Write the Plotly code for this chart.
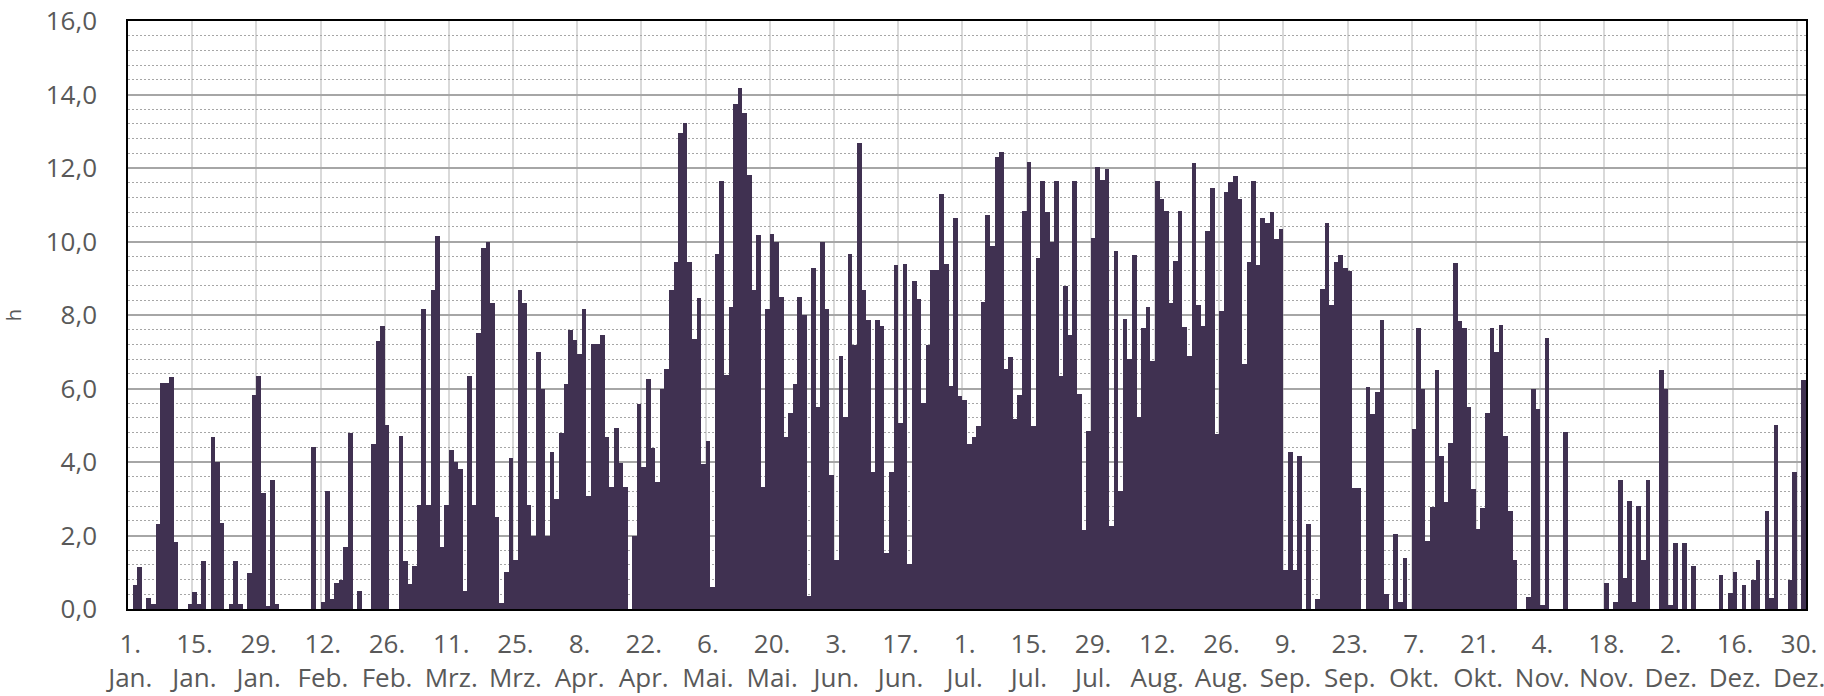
import plotly.graph_objects as go

# daily sunshine duration in hours, leap year (366 days)
jan = [0, 0.64, 1.15, 0, 0.3, 0.14, 2.32, 6.15, 6.15, 6.3, 1.82, 0, 0, 0.14, 0.46, 0.14,
       1.3, 0, 4.67, 4.0, 2.33, 0, 0.14, 1.3, 0.14, 0, 0.98, 5.83, 6.33, 3.16, 0.07]
feb = [3.5, 0.14, 0, 0, 0, 0, 0, 0, 0, 4.4, 0, 0.18, 3.2, 0.28, 0.7, 0.8, 1.7, 4.78, 0,
       0.5, 0, 0, 4.5, 7.3, 7.7, 5.0, 0, 0, 4.7]
mar = [1.3, 0.67, 1.16, 2.83, 8.16, 2.83, 8.67, 10.15, 1.68, 2.83, 4.33, 4.0, 3.81, 0.5,
       6.33, 2.83, 7.5, 9.82, 10.0, 8.33, 2.5, 0.15, 1.0, 4.1, 1.32, 8.67, 8.33, 2.83, 2.0,
       7.0, 6.0]
apr = [2.0, 4.26, 2.98, 4.78, 6.13, 7.6, 7.33, 6.94, 8.15, 3.07, 7.2, 7.2, 7.45, 4.67,
       3.33, 4.93, 3.97, 3.33, 0, 2.0, 5.58, 3.87, 6.26, 4.39, 3.45, 6.0, 6.52, 8.67, 9.45,
       12.96]
mai = [13.22, 9.45, 7.35, 8.46, 3.94, 4.57, 0.6, 9.67, 11.66, 6.36, 8.23, 13.74, 14.18,
       13.5, 11.82, 8.67, 10.18, 3.33, 8.16, 10.2, 10.0, 8.48, 4.67, 5.32, 6.13, 8.48, 8.0,
       0.35, 9.27, 5.5, 10.0]
jun = [8.16, 3.66, 1.32, 6.88, 5.22, 9.67, 7.19, 12.69, 8.67, 7.87, 3.73, 7.87, 7.71,
       1.53, 3.73, 9.36, 5.06, 9.4, 1.22, 8.93, 8.43, 5.61, 7.19, 9.22, 9.22, 11.3, 9.4,
       6.07, 10.65, 5.79]
jul = [5.69, 4.49, 4.67, 4.99, 8.36, 10.73, 9.89, 12.31, 12.44, 6.54, 6.85, 5.17, 5.82,
       10.82, 12.15, 4.99, 9.56, 11.65, 10.8, 10.0, 11.65, 6.33, 8.78, 7.45, 11.65, 5.84,
       2.15, 4.85, 10.1, 12.02, 11.68]
aug = [11.98, 2.26, 9.74, 3.22, 7.9, 6.81, 9.62, 5.22, 7.66, 8.21, 6.75, 11.65, 11.17,
       10.82, 8.33, 9.48, 10.82, 7.68, 6.88, 12.13, 8.26, 7.7, 10.28, 11.45, 4.75, 8.12,
       11.34, 11.61, 11.79, 11.17, 6.67]
sep = [9.45, 11.65, 9.37, 10.65, 10.49, 10.81, 10.07, 10.33, 1.06, 4.26, 1.06, 4.15, 0,
       2.31, 0, 0.28, 8.7, 10.49, 8.26, 9.43, 9.62, 9.27, 9.2, 3.3, 3.3, 0, 6.05, 5.3,
       5.91, 7.87]
okt = [0.42, 0, 2.05, 0.18, 1.4, 0, 4.9, 7.66, 6.0, 1.86, 2.78, 6.5, 4.15, 2.91, 4.51,
       9.41, 7.84, 7.64, 5.5, 3.26, 2.17, 2.74, 5.34, 7.64, 7.0, 7.73, 4.72, 2.67, 1.32, 0, 0]
nov = [0.33, 6.0, 5.43, 0.12, 7.37, 0, 0, 0, 4.82, 0, 0, 0, 0, 0, 0, 0, 0, 0.7, 0, 0.18,
       3.5, 0.85, 2.95, 0.18, 2.8, 1.32, 3.52, 0, 0, 6.5]
dez = [6.0, 0.12, 1.79, 0, 1.79, 0, 1.16, 0, 0, 0, 0, 0, 0.93, 0, 0.44, 1.0, 0, 0.65, 0,
       0.8, 1.32, 0, 2.67, 0.3, 5.0, 0, 0, 0.78, 3.74, 0, 6.24]

hours = jan + feb + mar + apr + mai + jun + jul + aug + sep + okt + nov + dez
days = list(range(len(hours)))

# tick every 14 days
tick_days = list(range(0, 366, 14))
tick_labels = [
    "1.<br>Jan.", "15.<br>Jan.", "29.<br>Jan.", "12.<br>Feb.", "26.<br>Feb.",
    "11.<br>Mrz.", "25.<br>Mrz.", "8.<br>Apr.", "22.<br>Apr.", "6.<br>Mai.",
    "20.<br>Mai.", "3.<br>Jun.", "17.<br>Jun.", "1.<br>Jul.", "15.<br>Jul.",
    "29.<br>Jul.", "12.<br>Aug.", "26.<br>Aug.", "9.<br>Sep.", "23.<br>Sep.",
    "7.<br>Okt.", "21.<br>Okt.", "4.<br>Nov.", "18.<br>Nov.", "2.<br>Dez.",
    "16.<br>Dez.", "30.<br>Dez.",
]

BAR_COLOR = "#403151"
TEXT_COLOR = "#595959"

fig = go.Figure(
    go.Bar(
        x=days,
        y=hours,
        width=1,
        marker_color=BAR_COLOR,
        marker_line_width=0,
    )
)

fig.update_layout(
    width=1824,
    height=696,
    margin=dict(l=128, r=18, t=21, b=87, autoexpand=False),
    plot_bgcolor="white",
    paper_bgcolor="white",
    separators=",.",
    bargap=0,
    showlegend=False,
    font=dict(family="Open Sans", color=TEXT_COLOR, size=26),
)

fig.update_xaxes(
    range=[-0.5, len(hours) - 0.5],
    tickmode="array",
    tickvals=tick_days,
    ticktext=tick_labels,
    tickangle=0,
    tickfont=dict(size=26, color=TEXT_COLOR),
    ticks="",
    ticklabelstandoff=11,
    ticklabeloverflow="allow",
    showgrid=False,
    minor=dict(
        tickmode="array",
        tickvals=[d - 0.5 for d in tick_days],
        showgrid=True,
        gridcolor="#d9d9d9",
        gridwidth=1.5,
        ticks="",
    ),
    showline=True,
    linecolor="black",
    linewidth=2,
    mirror=True,
    zeroline=False,
    automargin=False,
)

fig.update_yaxes(
    range=[0, 16],
    dtick=2,
    tickformat=".1f",
    tickfont=dict(size=26, color=TEXT_COLOR),
    ticks="",
    ticklabelstandoff=24,
    ticklabeloverflow="allow",
    showgrid=True,
    gridcolor="#a6a6a6",
    gridwidth=1.5,
    minor=dict(
        dtick=0.4,
        showgrid=True,
        gridcolor="#a6a6a6",
        griddash="2px,2px",
        gridwidth=1,
    ),
    showline=True,
    linecolor="black",
    linewidth=1.5,
    mirror=True,
    zeroline=False,
    automargin=False,
    title=dict(text="h", font=dict(size=20, color=TEXT_COLOR), standoff=32),
)

# drop the browser's default body margin so the figure sits at the page origin
fig.write_html(
    "out.html",
    config={"displayModeBar": False},
    post_script="document.body.style.margin = '0';",
)
